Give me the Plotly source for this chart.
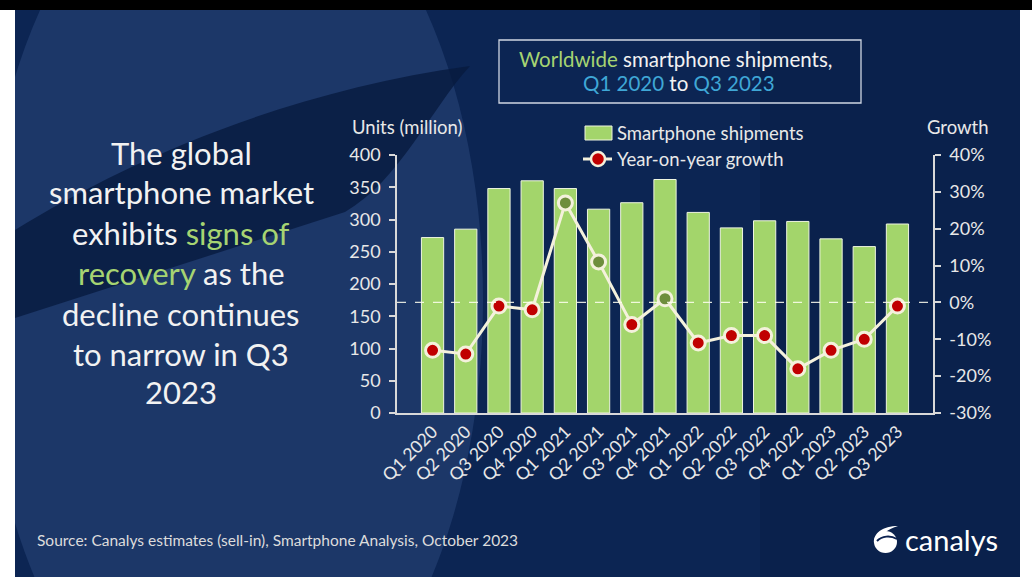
import plotly.graph_objects as go

# ---------------- data ----------------
quarters = ["Q1 2020", "Q2 2020", "Q3 2020", "Q4 2020", "Q1 2021", "Q2 2021", "Q3 2021",
            "Q4 2021", "Q1 2022", "Q2 2022", "Q3 2022", "Q4 2022", "Q1 2023", "Q2 2023", "Q3 2023"]
shipments = [272, 285, 348, 360, 348, 316, 326, 362, 311, 287, 298, 297, 270, 258, 293]
growth = [-13, -14, -1, -2, 27, 11, -6, 1, -11, -9, -9, -18, -13, -10, -1]
left_ticks = [0, 50, 100, 150, 200, 250, 300, 350, 400]
right_ticks = [-30, -20, -10, 0, 10, 20, 30, 40]
right_tick_text = ["%d%%" % v for v in right_ticks]

FONT = "Lato"
W, H = 1032, 577
L, R, T, B = 397, 933, 155, 413


def px(x):
    return (x - L) / (R - L)


def py(y):
    return (B - y) / (B - T)


BAR = "#a3d56b"
RED = "#c00000"
OLIVE = "#6e8e3c"
CREAM = "#f4f1dc"
AXIS = "#d9d9d9"
TXT = "#e8e8e8"
GREEN_T = "#a6d472"
CYAN_T = "#3fa7d6"

marker_colors = [RED if g < 0 else OLIVE for g in growth]

fig = go.Figure()
fig.add_trace(go.Bar(
    x=quarters, y=shipments, name="Smartphone shipments",
    marker=dict(color=BAR, line=dict(color="#eef5e0", width=1)),
    yaxis="y", showlegend=False,
))
fig.add_trace(go.Scatter(
    x=quarters, y=growth, name="Year-on-year growth", mode="lines+markers",
    line=dict(color=CREAM, width=3),
    marker=dict(size=14, color=marker_colors, line=dict(color=CREAM, width=3)),
    yaxis="y2", showlegend=False,
))

shapes = []
# slide background
shapes.append(dict(type="rect", xref="paper", yref="paper", x0=px(15), x1=px(1020), y0=py(577), y1=py(10),
                   fillcolor="#0c2553", line=dict(width=0), layer="below"))
# light big ellipse on the left
shapes.append(dict(type="circle", xref="paper", yref="paper", x0=px(233 - 250), x1=px(233 + 250),
                   y0=py(300 + 456), y1=py(300 - 456),
                   fillcolor="rgba(120,160,225,0.15)", line=dict(width=0), layer="below"))
# dark swoosh band
path = "M {},{} C {},{} {},{} {},{} C {},{} {},{} {},{} L {},{} Z".format(
    px(15), py(230), px(120), py(165), px(280), py(92), px(470), py(66),
    px(430), py(110), px(400), py(180), px(345), py(212),
    px(15), py(318))
shapes.append(dict(type="path", xref="paper", yref="paper", path=path,
                   fillcolor="rgba(8,26,62,0.8)", line=dict(width=0), layer="below"))
# darker right side
shapes.append(dict(type="rect", xref="paper", yref="paper", x0=px(760), x1=px(1020), y0=py(577), y1=py(10),
                   fillcolor="rgba(5,15,45,0.18)", line=dict(width=0), layer="below"))
# page margins
shapes.append(dict(type="rect", xref="paper", yref="paper", x0=px(0), x1=px(15), y0=py(577), y1=py(0),
                   fillcolor="white", line=dict(width=0), layer="below"))
shapes.append(dict(type="rect", xref="paper", yref="paper", x0=px(1020), x1=px(1032), y0=py(577), y1=py(0),
                   fillcolor="white", line=dict(width=0), layer="below"))
shapes.append(dict(type="rect", xref="paper", yref="paper", x0=px(0), x1=px(1032), y0=py(10), y1=py(0),
                   fillcolor="black", line=dict(width=0), layer="below"))
# title box
shapes.append(dict(type="rect", xref="paper", yref="paper", x0=px(499), x1=px(861), y0=py(103), y1=py(40),
                   fillcolor="rgba(0,0,0,0)", line=dict(color="#cfd6e2", width=1.3)))
# zero dashed line
shapes.append(dict(type="line", xref="paper", yref="y2", x0=0, x1=1, y0=0, y1=0,
                   line=dict(color="rgba(255,255,240,0.85)", width=1.2, dash="dash")))
# legend symbols
shapes.append(dict(type="rect", xref="paper", yref="paper", x0=px(585), x1=px(612), y0=py(140), y1=py(126),
                   fillcolor=BAR, line=dict(color="#eef5e0", width=1)))
shapes.append(dict(type="line", xref="paper", yref="paper", x0=px(583), x1=px(612), y0=py(159), y1=py(159),
                   line=dict(color=CREAM, width=3)))
shapes.append(dict(type="circle", xref="paper", yref="paper", x0=px(591), x1=px(605), y0=py(166), y1=py(152),
                   fillcolor=RED, line=dict(color=CREAM, width=2.5)))
# canalys logo icon
shapes.append(dict(type="circle", xref="paper", yref="paper", x0=px(874), x1=px(897), y0=py(553), y1=py(531),
                   fillcolor="white", line=dict(width=0)))
logo_tail = "M {},{} C {},{} {},{} {},{} C {},{} {},{} {},{} Z".format(
    px(874), py(543), px(873), py(533), px(883), py(526), px(898), py(526),
    px(888), py(529), px(880), py(535), px(878), py(542))
shapes.append(dict(type="path", xref="paper", yref="paper", path=logo_tail,
                   fillcolor="white", line=dict(width=0)))
logo_cut = "M {},{} C {},{} {},{} {},{}".format(
    px(877), py(541), px(882), py(536), px(890), py(535), px(897), py(539))
shapes.append(dict(type="path", xref="paper", yref="paper", path=logo_cut,
                   line=dict(color="#0b2150", width=2)))

ann = []


def add_text(x, y, text, size, color=TXT, xanchor="left", yanchor="middle"):
    ann.append(dict(xref="paper", yref="paper", x=px(x), y=py(y), text=text, showarrow=False,
                    xanchor=xanchor, yanchor=yanchor, font=dict(family=FONT, size=size, color=color)))


# left headline
lines = [
    "The global",
    "smartphone market",
    "exhibits <span style='color:%s'>signs of</span>" % GREEN_T,
    "<span style='color:%s'>recovery</span> as the" % GREEN_T,
    "decline continues",
    "to narrow in Q3",
    "2023",
]
ys = [153, 192, 233, 273, 314, 354, 392]
for t, y in zip(lines, ys):
    add_text(181, y, t, 31, color="#f2f2f2", xanchor="center")

# title box text
add_text(675, 59, "<span style='color:%s'>Worldwide</span> smartphone shipments," % GREEN_T, 20.5,
         color="#f2f2f2", xanchor="center")
add_text(679, 83, "<span style='color:%s'>Q1 2020</span> to <span style='color:%s'>Q3 2023</span>" % (CYAN_T, CYAN_T),
         20.5, color="#f2f2f2", xanchor="center")

# axis titles
add_text(350, 127, "Units (million)", 18.5)
add_text(991, 127, "Growth", 18.5, xanchor="right")

# legend texts
add_text(615, 133, "Smartphone shipments", 18.5)
add_text(615, 159, "Year-on-year growth", 18.5)

# source and logo text
add_text(35, 540, "Source: Canalys estimates (sell-in), Smartphone Analysis, October 2023", 15.5, color="#dcdcdc")
add_text(903, 539, "canalys", 29, color="white")

fig.update_layout(
    width=W, height=H,
    margin=dict(l=L, r=W - R, t=T, b=H - B, pad=0),
    paper_bgcolor="white",
    plot_bgcolor="rgba(0,0,0,0)",
    bargap=0.33,
    showlegend=False,
    hovermode=False,
    shapes=shapes,
    annotations=ann,
    font=dict(family=FONT, color=TXT),
    xaxis=dict(
        type="category", showgrid=False, zeroline=False, showline=True, linecolor=AXIS, linewidth=1.5,
        ticks="", tickangle=-45, tickfont=dict(family=FONT, size=17.5, color=TXT), automargin=False,
    ),
    yaxis=dict(
        range=[0, 400], tickvals=left_ticks, showgrid=False, zeroline=False, showline=True,
        linecolor=AXIS, linewidth=1.5, ticks="outside", ticklen=6, tickcolor=AXIS, tickwidth=1.5,
        tickfont=dict(family=FONT, size=18, color=TXT), automargin=False, ticklabelstandoff=5,
    ),
    yaxis2=dict(
        range=[-30, 40], tickvals=right_ticks, ticktext=right_tick_text, overlaying="y", side="right",
        showgrid=False, zeroline=False, showline=True, linecolor=AXIS, linewidth=1.5,
        ticks="outside", ticklen=6, tickcolor=AXIS, tickwidth=1.5,
        tickfont=dict(family=FONT, size=18, color=TXT), automargin=False, ticklabelstandoff=5,
    ),
)

fig.write_html("out.html", config={"displayModeBar": False},
               post_script="document.body.style.margin='0px';document.body.style.overflow='hidden';")
